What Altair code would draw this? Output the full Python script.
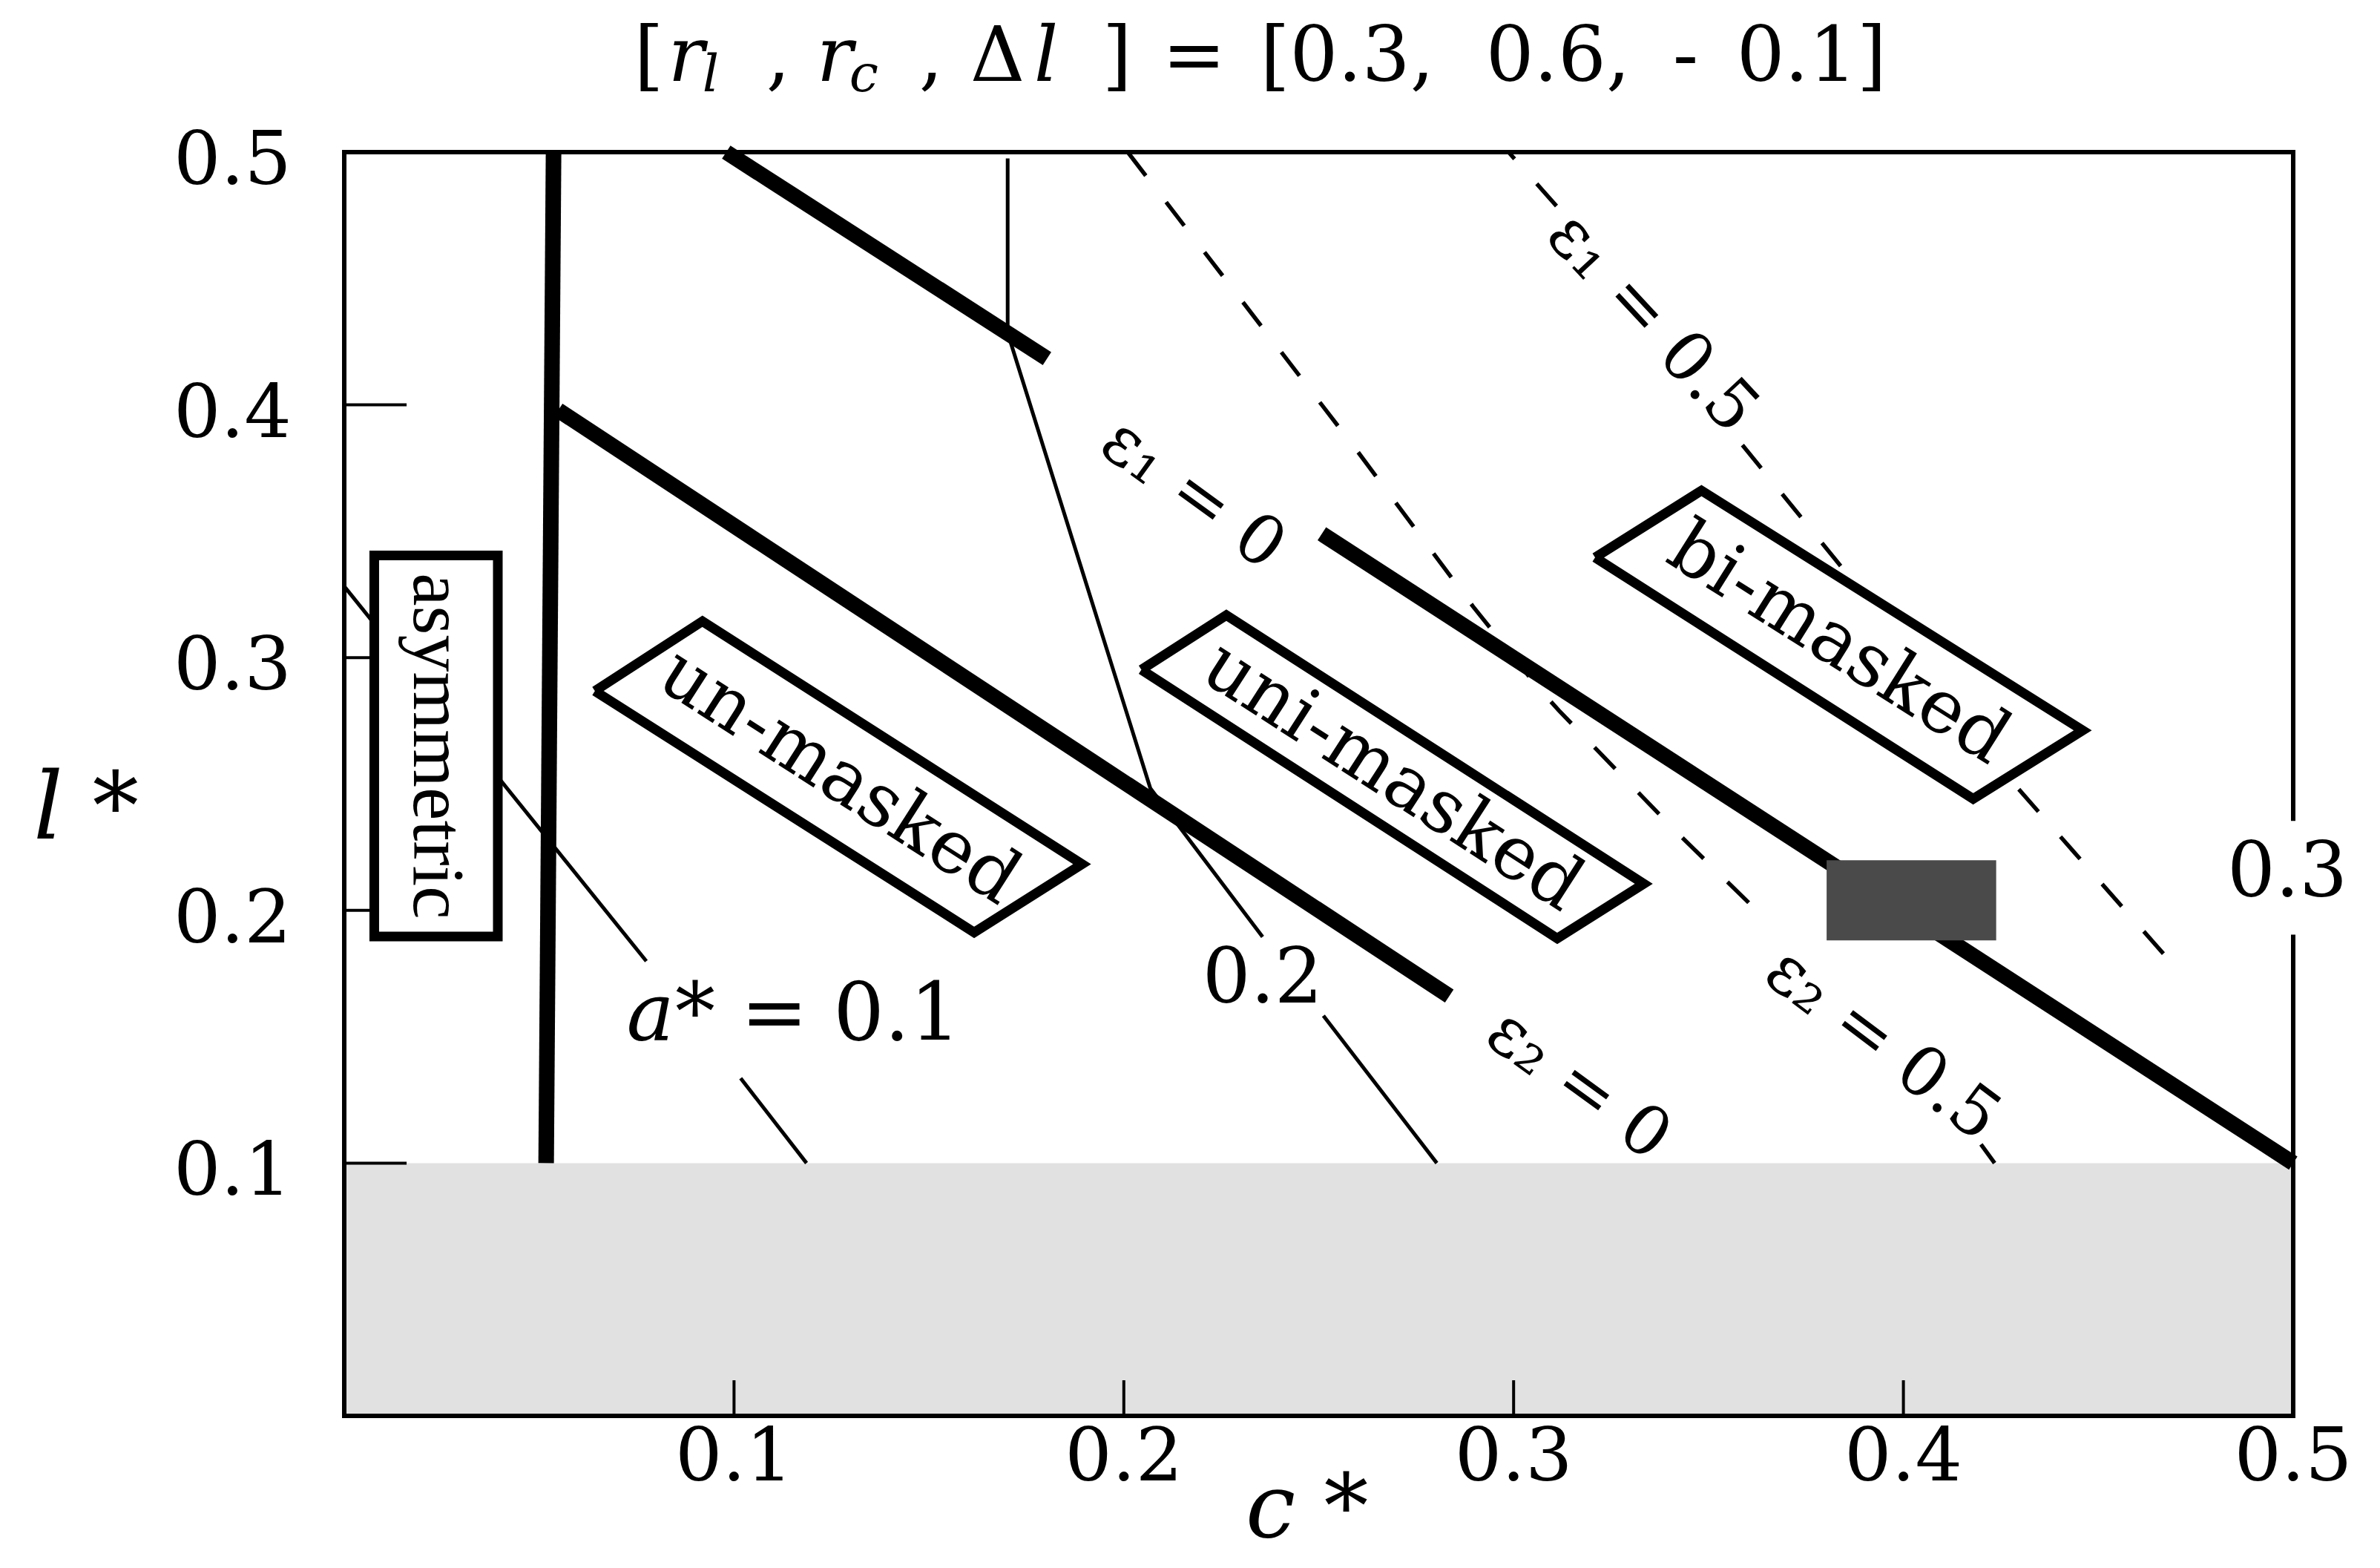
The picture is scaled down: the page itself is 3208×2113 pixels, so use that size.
import altair as alt
import pandas as pd

FONT = "DejaVu Serif"
FONT_TIMES = "Liberation Serif"

# ---------------- axis values ----------------
axis_values = [0.1, 0.2, 0.3, 0.4, 0.5]
inner_tick_values = [0.1, 0.2, 0.3, 0.4]
x_title = "c *"
y_title = "l *"
x_title_c = 0.247
y_title_l = 0.2284

# ---------------- grey band (l* < 0.1) ----------------
band_c = [0.0, 0.5]
band_l = [0.0, 0.1]

# ---------------- thick boundaries (c*, l*) ----------------
thick_vertical = [(0.0537, 0.500), (0.0518, 0.100)]
thick_eps2_zero = [(0.0549, 0.3979), (0.2835, 0.1661)]
thick_upper = [(0.0980, 0.500), (0.1803, 0.4183)]
thick_eps1_zero = [(0.2508, 0.3490), (0.5000, 0.1000)]

# ---------------- thin a* contours ----------------
a01_upper = [(0.0000, 0.3282), (0.0775, 0.1799)]
a01_lower = [(0.1017, 0.1336), (0.1186, 0.1000)]
a02_upper = [(0.1702, 0.4975), (0.1702, 0.4285), (0.2068, 0.2483), (0.2356, 0.1895)]
a02_lower = [(0.2512, 0.1583), (0.2803, 0.1000)]
a03_upper = [(0.5, 0.5), (0.5, 0.2363)]
a03_lower = [(0.5, 0.1895), (0.5, 0.0)]

# ---------------- dashed eps = 0.5 contours ----------------
eps2_half_upper = [(0.2010, 0.5000), (0.2602, 0.3811), (0.2896, 0.3202), (0.3056, 0.2894),
                   (0.3116, 0.2791), (0.3416, 0.2313), (0.3663, 0.1940)]
eps2_half_lower = [(0.4199, 0.1074), (0.4234, 0.1000)]
eps1_half_upper = [(0.3110, 0.4787), (0.2987, 0.5000)]
eps1_half_lower = [(0.3587, 0.3841), (0.3831, 0.3378), (0.4296, 0.2479), (0.4689, 0.1790)]

# ---------------- frame ----------------
frame_left = [(0.0, 0.0), (0.0, 0.5)]
frame_top = [(0.0, 0.5), (0.5, 0.5)]
frame_bottom = [(0.0, 0.0), (0.5, 0.0)]

# ---------------- label boxes ----------------
box_asym_c = [0.0077, 0.0394]
box_asym_l = [0.1897, 0.3404]
box_unmasked = [(0.0643, 0.2868), (0.0919, 0.3144), (0.1893, 0.2183), (0.1616, 0.1913)]
box_unimasked = [(0.2045, 0.2952), (0.2263, 0.3168), (0.3334, 0.2105), (0.3112, 0.1889)]
box_bimasked = [(0.3209, 0.3396), (0.3482, 0.3661), (0.4460, 0.2712), (0.4179, 0.2441)]

# ---------------- dark block ----------------
block_c = [0.3803, 0.4238]
block_l = [0.1881, 0.2198]

# ---------------- in-plot labels ----------------
label_text = ["un-masked", "uni-masked", "bi-masked",
              "ε₁ = 0", "ε₂ = 0", "ε₁ = 0.5", "ε₂ = 0.5", "0.2", "0.3"]
label_c = [0.1269, 0.2688, 0.3833, 0.2177, 0.3166, 0.3355, 0.3946, 0.2356, 0.4985]
label_l = [0.2527, 0.2529, 0.3053, 0.3646, 0.1309, 0.4324, 0.1468, 0.1727, 0.2147]

asym_text = ["asymmetric"]
asym_c = [0.0236]
asym_l = [0.2650]

a_label_italic = ["a"]
a_label_italic_c = [0.0724]
a_label_rest = ["* = 0.1"]
a_label_rest_c = [0.0849]
a_label_l = 0.149

# ---------------- title pieces ----------------
title_up_text = ["[", ",", ",", "Δ", "]", "=", "[0.3,", "0.6,", "-", "0.1]"]
title_up_c = [0.07435, 0.10823, 0.14744, 0.16057, 0.19445, 0.20987, 0.23499, 0.29286, 0.34082, 0.35719]
title_it_text = ["r", "l", "r", "c", "l"]
title_it_c = [0.0831, 0.09186, 0.12117, 0.12955, 0.17694]
title_it_sub = [False, True, False, True, False]
title_l = 0.5281
title_sub_l = 0.5240

# ---------------- styles ----------------
label_angle = [32.6, 32.8, 32.2, 36, 36, 47, 37, 0, 0]
label_size = [100, 100, 100, 92, 92, 92, 92, 102, 102]
TITLE_SIZE = 102
SUB_SIZE = 70
A_SIZE = 108
TICK_LABEL_SIZE = 100
AXIS_TITLE_SIZE = 120

# ================= build tables =================
def lines_df(named, close=False):
    rows = []
    for name, pts in named:
        seq = list(pts) + ([pts[0]] if close else [])
        for i, (c, l) in enumerate(seq):
            rows.append({"seg": name, "ord": i, "c": c, "l": l})
    return pd.DataFrame(rows)

xs = alt.Scale(domain=[0, 0.5], nice=False, zero=False)
ys = alt.Scale(domain=[0, 0.5], nice=False, zero=False)

def X(f="c"):
    return alt.X(f"{f}:Q", scale=xs, axis=None)

def Y(f="l"):
    return alt.Y(f"{f}:Q", scale=ys, axis=None)

band_df = pd.DataFrame({"c": [band_c[0]], "c2": [band_c[1]], "l": [band_l[0]], "l2": [band_l[1]]})
band = alt.Chart(band_df).mark_rect(color="#e1e1e1").encode(x=X(), x2="c2", y=Y(), y2="l2")

def line_layer(df, **mk):
    return alt.Chart(df).mark_line(color="black", **mk).encode(
        x=X(), y=Y(), detail="seg:N", order="ord:Q")

thin_df = lines_df([("a01u", a01_upper), ("a01l", a01_lower), ("a02u", a02_upper), ("a02l", a02_lower)])
thin = line_layer(thin_df, strokeWidth=5, strokeCap="butt")

dash_df = lines_df([("e2u", eps2_half_upper), ("e2l", eps2_half_lower),
                    ("e1u", eps1_half_upper), ("e1l", eps1_half_lower)])
dashed = line_layer(dash_df, strokeWidth=5.5, strokeDash=[40, 45], strokeCap="butt")

thick_df = lines_df([("v", thick_vertical), ("e2z", thick_eps2_zero),
                     ("up", thick_upper), ("e1z", thick_eps1_zero)])
thick = line_layer(thick_df, strokeWidth=21, strokeCap="butt")

# inward tick marks
xt_df = pd.DataFrame({"c": inner_tick_values, "c2": inner_tick_values,
                      "l": [0.0] * 4, "l2": [0.0141] * 4})
yt_df = pd.DataFrame({"c": [0.0] * 4, "c2": [0.016] * 4,
                      "l": inner_tick_values, "l2": inner_tick_values})
xticks = alt.Chart(xt_df).mark_rule(color="black", strokeWidth=4).encode(
    x=X(), x2="c2", y=Y(), y2="l2")
yticks = alt.Chart(yt_df).mark_rule(color="black", strokeWidth=4).encode(
    x=X(), x2="c2", y=Y(), y2="l2")

# tick labels (placed through the scales)
xlab_df = pd.DataFrame({"c": axis_values, "text": [f"{v:.1f}" for v in axis_values]})
xlabels = alt.Chart(xlab_df).mark_text(font=FONT, fontSize=TICK_LABEL_SIZE, align="center",
                                       baseline="alphabetic", dy=87, color="black").encode(
    x=X(), y=alt.Y(datum=0, scale=ys, axis=None), text="text:N")
ylab_df = pd.DataFrame({"l": axis_values, "text": [f"{v:.1f}" for v in axis_values]})
ylabels = alt.Chart(ylab_df).mark_text(font=FONT, fontSize=TICK_LABEL_SIZE, align="right",
                                       baseline="alphabetic", dx=-71, dy=43, color="black").encode(
    x=alt.X(datum=0, scale=xs, axis=None), y=Y(), text="text:N")

xtitle_df = pd.DataFrame({"c": [x_title_c], "text": [x_title]})
xtitle = alt.Chart(xtitle_df).mark_text(font=FONT, fontSize=AXIS_TITLE_SIZE, fontStyle="italic",
                                        align="center", baseline="alphabetic", dy=163,
                                        color="black").encode(
    x=X(), y=alt.Y(datum=0, scale=ys, axis=None), text="text:N")
ytitle_df = pd.DataFrame({"l": [y_title_l], "text": [y_title]})
ytitle = alt.Chart(ytitle_df).mark_text(font=FONT, fontSize=125, fontStyle="italic",
                                        align="center", baseline="alphabetic", dx=-348,
                                        color="black").encode(
    x=alt.X(datum=0, scale=xs, axis=None), y=Y(), text="text:N")

asym_df = pd.DataFrame({"c": [box_asym_c[0]], "c2": [box_asym_c[1]],
                        "l": [box_asym_l[0]], "l2": [box_asym_l[1]]})
asym_box = alt.Chart(asym_df).mark_rect(fill="white", stroke="black", strokeWidth=13).encode(
    x=X(), x2="c2", y=Y(), y2="l2")

poly_df = lines_df([("un", box_unmasked), ("uni", box_unimasked), ("bi", box_bimasked)], close=True)
boxes = alt.Chart(poly_df).mark_line(color="black", fill="white", strokeWidth=13,
                                     strokeJoin="miter").encode(
    x=X(), y=Y(), detail="seg:N", order="ord:Q")

block_df = pd.DataFrame({"c": [block_c[0]], "c2": [block_c[1]], "l": [block_l[0]], "l2": [block_l[1]]})
block = alt.Chart(block_df).mark_rect(color="#4a4a4a").encode(x=X(), x2="c2", y=Y(), y2="l2")

frame_df = lines_df([("fl", frame_left), ("ft", frame_top), ("fb", frame_bottom),
                     ("a03u", a03_upper), ("a03l", a03_lower)])
frame = line_layer(frame_df, strokeWidth=6, strokeCap="square")

lab_df = pd.DataFrame({"text": label_text, "c": label_c, "l": label_l,
                       "angle": label_angle, "size": label_size})
labels = alt.Chart(lab_df).mark_text(font=FONT, align="center", baseline="middle", color="black").encode(
    x=X(), y=Y(), text="text:N",
    size=alt.Size("size:Q", scale=None), angle=alt.Angle("angle:Q", scale=None))

asym_lab_df = pd.DataFrame({"text": asym_text, "c": asym_c, "l": asym_l})
asym_label = alt.Chart(asym_lab_df).mark_text(font=FONT_TIMES, fontSize=100, angle=90,
                                              align="center", baseline="middle", color="black").encode(
    x=X(), y=Y(), text="text:N")

up_df = pd.DataFrame({
    "text": title_up_text + a_label_rest,
    "c": title_up_c + a_label_rest_c,
    "l": [title_l] * len(title_up_text) + [a_label_l],
    "size": [TITLE_SIZE] * len(title_up_text) + [A_SIZE],
})
up_text = alt.Chart(up_df).mark_text(font=FONT, align="left", baseline="alphabetic", color="black").encode(
    x=X(), y=Y(), text="text:N", size=alt.Size("size:Q", scale=None))

it_df = pd.DataFrame({
    "text": title_it_text + a_label_italic,
    "c": title_it_c + a_label_italic_c,
    "l": [title_sub_l if s else title_l for s in title_it_sub] + [a_label_l],
    "size": [SUB_SIZE if s else TITLE_SIZE for s in title_it_sub] + [A_SIZE],
})
it_text = alt.Chart(it_df).mark_text(font=FONT, fontStyle="italic", align="left",
                                     baseline="alphabetic", color="black").encode(
    x=X(), y=Y(), text="text:N", size=alt.Size("size:Q", scale=None))

chart = alt.layer(
    band, thin, dashed, thick, xticks, yticks, asym_box, boxes, block, frame,
    labels, asym_label, up_text, it_text, xlabels, ylabels, xtitle, ytitle
).properties(
    width=2627, height=1703,
    autosize=alt.AutoSizeParams(type="none"),
    padding={"left": 456, "top": 197, "right": 109, "bottom": 197},
    background="white",
).configure_view(stroke=None)

chart.save("out.html", embed_options={"renderer": "svg", "actions": False})
